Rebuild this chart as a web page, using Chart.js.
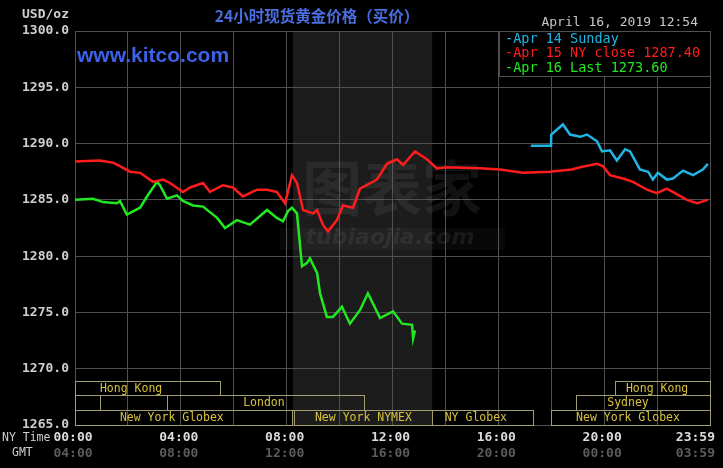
<!DOCTYPE html>
<html>
<head>
<meta charset="utf-8">
<script src="https://cdn.jsdelivr.net/npm/chart.js@4.4.1/dist/chart.umd.min.js"></script>
<style>
  html, body { margin: 0; padding: 0; background: #000; }
  #wrap { width: 723px; height: 468px; }
</style>
</head>
<body>
<div id="wrap"><canvas id="myChart" width="723" height="468"></canvas></div>
<script>
// 时间(小时, NY Time) 与价格
const hoursRed = [0, 0.94, 1.44, 1.70, 2.08, 2.46, 2.95, 3.33, 3.59, 4.08, 4.35, 4.84, 5.10, 5.59, 5.97, 6.35, 6.88, 7.26, 7.63, 7.94, 8.20, 8.39, 8.62, 9.00, 9.15, 9.37, 9.56, 9.90, 10.13, 10.51, 10.77, 11.41, 11.79, 12.17, 12.40, 12.85, 13.30, 13.68, 14.06, 15.31, 16.06, 16.93, 17.95, 18.78, 19.09, 19.73, 19.95, 20.22, 20.71, 21.09, 21.62, 21.99, 22.37, 23.13, 23.51, 23.92];
const valuesRed = [1288.4, 1288.5, 1288.3, 1288.0, 1287.5, 1287.4, 1286.6, 1286.8, 1286.5, 1285.7, 1286.1, 1286.5, 1285.7, 1286.3, 1286.1, 1285.3, 1285.9, 1285.9, 1285.7, 1284.7, 1287.2, 1286.5, 1284.1, 1283.8, 1284.1, 1282.8, 1282.2, 1283.2, 1284.5, 1284.3, 1286.0, 1286.8, 1288.2, 1288.6, 1288.1, 1289.3, 1288.6, 1287.8, 1287.9, 1287.8, 1287.7, 1287.4, 1287.5, 1287.7, 1287.9, 1288.2, 1288.0, 1287.2, 1286.9, 1286.6, 1285.9, 1285.6, 1286.0, 1285.0, 1284.7, 1285.0];

const hoursGreen = [0, 0.68, 1.06, 1.59, 1.70, 1.96, 2.46, 2.72, 3.10, 3.21, 3.48, 3.85, 4.08, 4.46, 4.84, 5.37, 5.67, 6.12, 6.61, 7.26, 7.63, 7.86, 8.05, 8.20, 8.39, 8.58, 8.77, 8.88, 9.15, 9.26, 9.52, 9.75, 10.09, 10.39, 10.77, 11.07, 11.53, 12.02, 12.36, 12.74, 12.78, 12.85];
const valuesGreen = [1285.0, 1285.1, 1284.8, 1284.7, 1284.9, 1283.7, 1284.3, 1285.3, 1286.6, 1286.3, 1285.1, 1285.4, 1284.9, 1284.5, 1284.4, 1283.4, 1282.5, 1283.2, 1282.8, 1284.1, 1283.4, 1283.1, 1284.0, 1284.3, 1283.8, 1279.1, 1279.4, 1279.8, 1278.5, 1276.7, 1274.6, 1274.6, 1275.5, 1274.0, 1275.2, 1276.7, 1274.5, 1275.1, 1274.0, 1273.9, 1272.7, 1273.4];

const hoursCyan = [17.23, 17.99, 18.0, 18.44, 18.71, 19.09, 19.35, 19.73, 19.92, 20.22, 20.48, 20.79, 20.98, 21.35, 21.66, 21.84, 22.03, 22.37, 22.60, 22.98, 23.36, 23.73, 23.92];
const valuesCyan = [1289.8, 1289.8, 1290.8, 1291.7, 1290.8, 1290.6, 1290.8, 1290.2, 1289.3, 1289.4, 1288.5, 1289.5, 1289.3, 1287.7, 1287.5, 1286.8, 1287.4, 1286.8, 1286.9, 1287.6, 1287.2, 1287.7, 1288.2];

const nyTicks = [0, 4, 8, 12, 16, 20, 24];
const nyLabels = ['00:00', '04:00', '08:00', '12:00', '16:00', '20:00', '23:59'];
const gmtLabels = ['04:00', '08:00', '12:00', '16:00', '20:00', '00:00', '03:59'];

const legendLabels = ['-Apr 14 Sunday', '-Apr 15 NY close 1287.40', '-Apr 16 Last 1273.60'];

// 交易时段: [行, 开始, 结束, 名称, 文字中心]
const sessions = [
  [0, 0, 5.48, 'Hong Kong', 2.12],
  [0, 20.4, 24, 'Hong Kong', 22.0],
  [1, 0, 0.94, '', 0],
  [1, 0.94, 3.48, '', 0],
  [1, 3.48, 10.92, 'London', 7.14],
  [1, 18.93, 24, 'Sydney', 20.9],
  [2, 0, 8.22, 'New York Globex', 3.66],
  [2, 8.26, 13.5, 'New York NYMEX', 10.9],
  [2, 13.5, 17.31, 'NY Globex', 15.15],
  [2, 17.99, 24, 'New York Globex', 20.9]
];
const nymexShade = [8.24, 13.5];

const toXY = (hs, vs) => hs.map((h, i) => ({ x: h, y: vs[i] }));
const MONO = '"DejaVu Sans Mono", monospace';

const decor = {
  id: 'decor',
  beforeDraw(chart) {
    const { ctx, chartArea: a, scales: { x } } = chart;
    ctx.save();
    ctx.fillStyle = '#000';
    ctx.fillRect(0, 0, chart.width, chart.height);
    const x0 = x.getPixelForValue(nymexShade[0]);
    const x1 = x.getPixelForValue(nymexShade[1]);
    ctx.fillStyle = '#1c1c1c';
    ctx.fillRect(x0, a.top, x1 - x0, a.bottom - a.top);
    ctx.restore();
  },
  beforeDatasetsDraw(chart) {
    const { ctx } = chart;
    ctx.save();
    // watermark
    ctx.fillStyle = 'rgba(150,150,150,0.12)';
    ctx.font = 'bold 60px "Noto Sans CJK SC"';
    ctx.textAlign = 'center';
    ctx.textBaseline = 'middle';
    ctx.fillText('图表家', 392, 188);
    ctx.fillStyle = 'rgba(150,150,150,0.05)';
    ctx.fillRect(280, 228, 225, 22);
    ctx.fillStyle = 'rgba(150,150,150,0.13)';
    ctx.font = 'italic bold 22px "DejaVu Sans"';
    ctx.fillText('tubiaojia.com', 390, 238);
    ctx.restore();
  },
  afterDraw(chart) {
    const { ctx, chartArea: a, scales: { x } } = chart;
    ctx.save();
    // sessions
    const rowTop = [a.bottom - 44, a.bottom - 30, a.bottom - 15];
    const rowH = [14, 15, 15];
    ctx.strokeStyle = '#a29e70';
    ctx.lineWidth = 1;
    ctx.font = '11.5px ' + MONO;
    ctx.textAlign = 'center';
    ctx.textBaseline = 'middle';
    sessions.forEach(([r, s, e, name, c]) => {
      const px0 = Math.round(x.getPixelForValue(s)) + 0.5;
      const px1 = Math.round(x.getPixelForValue(e)) + 0.5;
      ctx.strokeRect(px0, rowTop[r] + 0.5, px1 - px0, rowH[r]);
      if (name) {
        ctx.fillStyle = '#d8c23c';
        ctx.fillText(name, x.getPixelForValue(c), rowTop[r] + rowH[r] / 2 + 1);
      }
    });

    // x labels
    ctx.font = 'bold 13px ' + MONO;
    nyTicks.forEach((h, i) => {
      const px = x.getPixelForValue(h);
      const last = i === nyTicks.length - 1;
      ctx.textAlign = last ? 'right' : 'center';
      const tx = last ? px + 5 : px - 2;
      ctx.fillStyle = '#dcdcdc';
      ctx.fillText(nyLabels[i], tx, 438);
      ctx.fillStyle = '#5c5c5c';
      ctx.fillText(gmtLabels[i], tx, 454);
    });
    ctx.font = '11.5px ' + MONO;
    ctx.fillStyle = '#cfcfcf';
    ctx.textAlign = 'left';
    ctx.fillText('NY Time', 2, 438);
    ctx.fillText('GMT', 12, 453);

    // header
    ctx.font = 'bold 13px ' + MONO;
    ctx.fillText('USD/oz', 22, 15);
    ctx.font = '13px ' + MONO;
    ctx.fillStyle = '#c8c8c8';
    ctx.textAlign = 'right';
    ctx.fillText('April 16, 2019 12:54', 698, 23);
    ctx.textAlign = 'center';
    ctx.fillStyle = '#4a6ee0';
    ctx.font = 'bold 15.5px "Noto Sans CJK SC"';
    ctx.fillText('24小时现货黄金价格（买价）', 317, 16);
    ctx.textAlign = 'left';
    ctx.fillStyle = '#3d62e8';
    ctx.font = 'bold 21px "Liberation Sans"';
    ctx.fillText('www.kitco.com', 77, 56);

    // legend box
    const lx = 499, ly = a.top, lw = a.right - lx, lh = 45;
    ctx.fillStyle = '#000';
    ctx.fillRect(lx, ly, lw, lh);
    ctx.strokeStyle = '#505050';
    ctx.strokeRect(lx + 0.5, ly + 0.5, lw, lh);
    ctx.font = '13.5px ' + MONO;
    ctx.textAlign = 'left';
    chart.data.datasets.forEach((ds, i) => {
      ctx.fillStyle = ds.borderColor;
      ctx.fillText(legendLabels[i], 505, 39 + i * 14.5);
    });
    ctx.restore();
  }
};

const ctx = document.getElementById('myChart').getContext('2d');
const myChart = new Chart(ctx, {
  type: 'line',
  data: {
    datasets: [
      { label: 'Apr 14 Sunday', data: toXY(hoursCyan, valuesCyan), borderColor: '#1fb6e6' },
      { label: 'Apr 15 NY close', data: toXY(hoursRed, valuesRed), borderColor: '#ff1c1c' },
      { label: 'Apr 16 Last', data: toXY(hoursGreen, valuesGreen), borderColor: '#22e822' }
    ]
  },
  options: {
    responsive: false,
    animation: false,
    layout: { padding: { top: 31, right: 13, left: 0, bottom: 0 } },
    elements: {
      point: { radius: 0 },
      line: { borderWidth: 2.5, tension: 0 }
    },
    plugins: { legend: { display: false }, tooltip: { enabled: false } },
    scales: {
      x: {
        type: 'linear',
        min: 0,
        max: 24,
        ticks: { stepSize: 2, display: false },
        grid: { color: '#505050', drawTicks: false },
        border: { color: '#505050' },
        afterFit(s) { s.height = 43; }
      },
      y: {
        min: 1265,
        max: 1300,
        ticks: {
          stepSize: 5,
          padding: 6,
          color: '#cfcfcf',
          font: { family: 'DejaVu Sans Mono', size: 13, weight: 'bold' },
          callback: (v) => v.toFixed(1)
        },
        grid: { color: '#505050', drawTicks: false },
        border: { color: '#505050' },
        afterFit(s) { s.width = 75; }
      }
    }
  },
  plugins: [decor]
});
</script>
</body>
</html>
